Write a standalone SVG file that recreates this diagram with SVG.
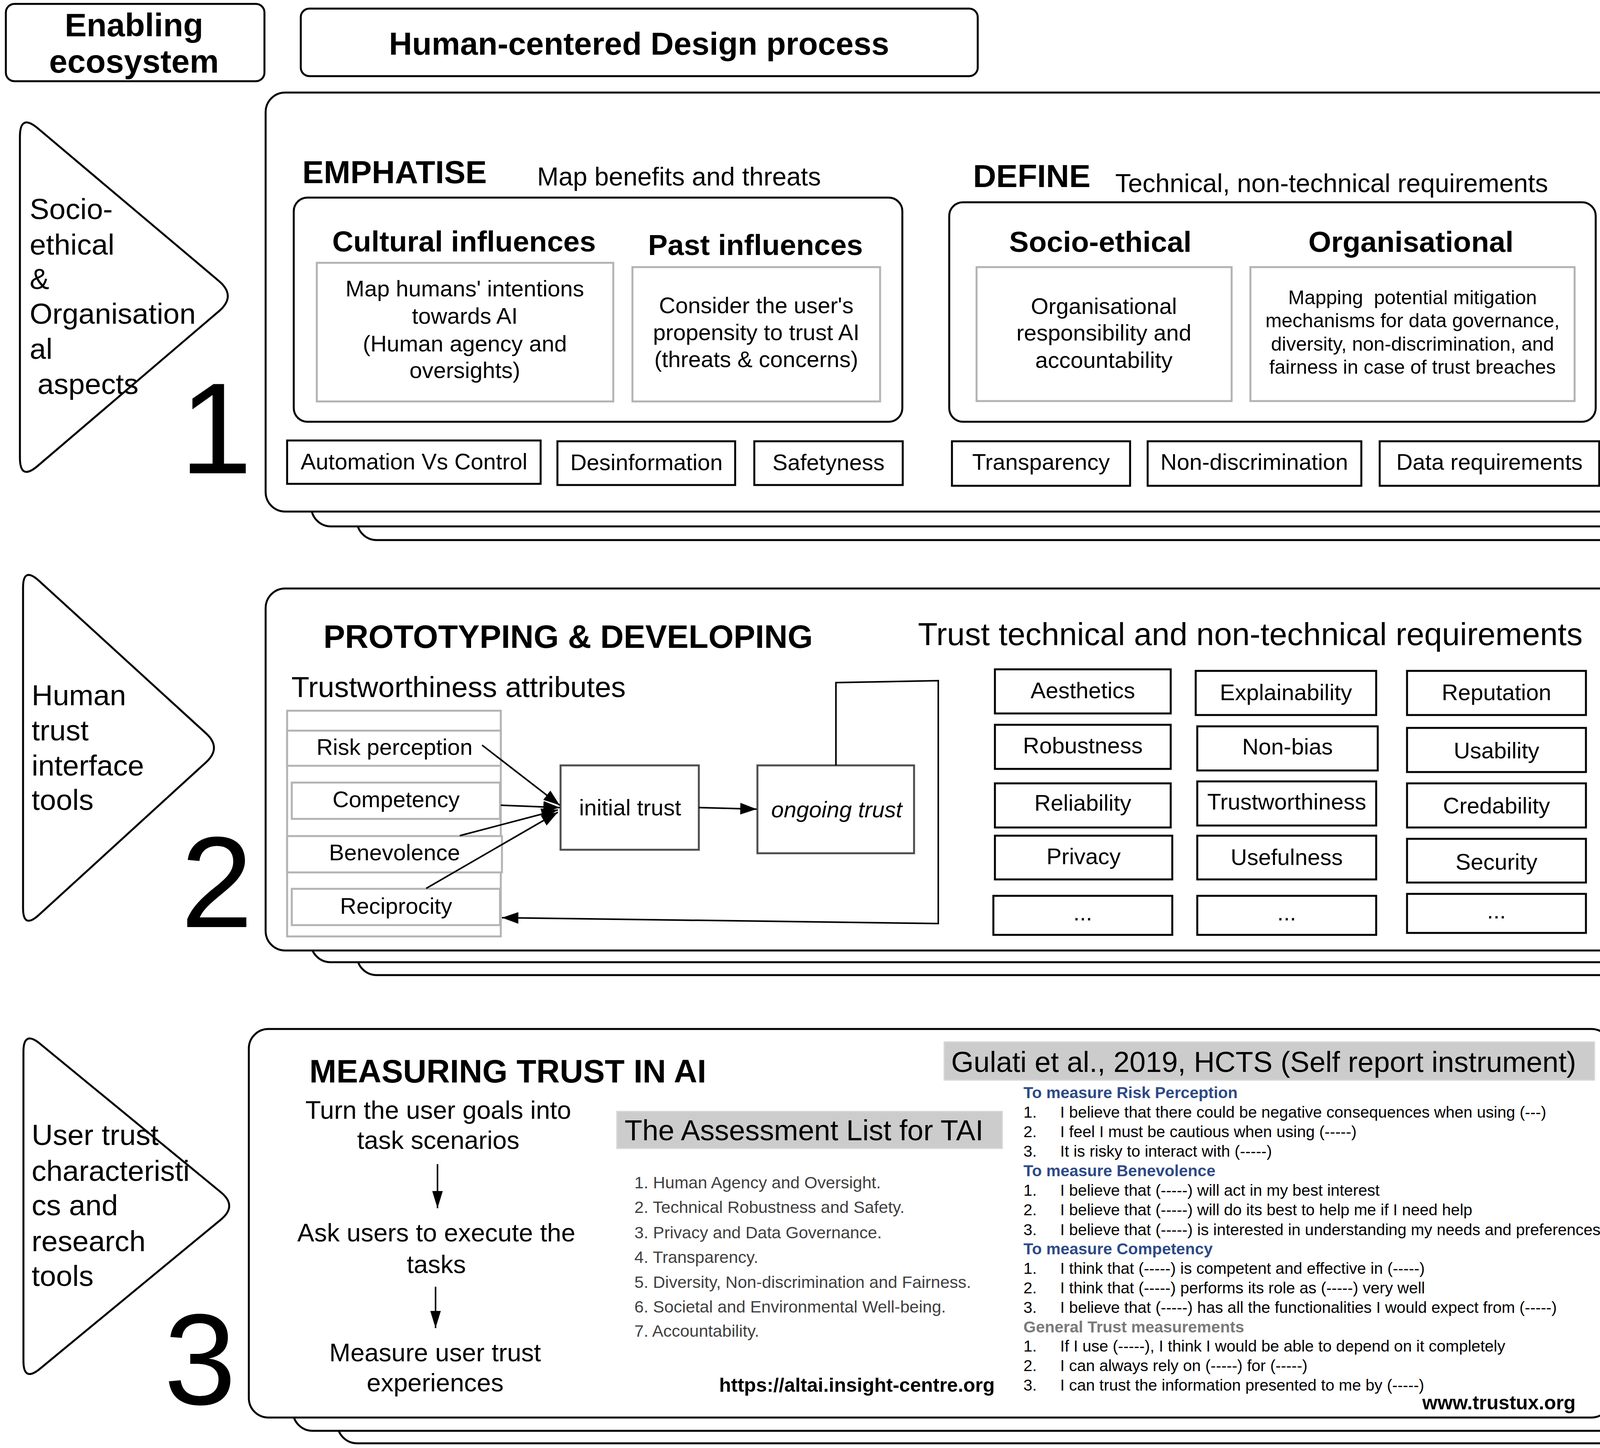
<svg xmlns="http://www.w3.org/2000/svg" width="4595" height="3708" viewBox="0 0 4595 3708">
<defs>
<style>
text{font-family:"Liberation Sans",Arial,Helvetica,sans-serif;fill:#000}
.b{font-weight:bold}
.c{text-anchor:middle}
.i{font-style:italic}
.f58{font-size:58px}
.f75{font-size:75px}
.f41{font-size:41px}
.box{fill:#fff;stroke:#000;stroke-width:5}
.rbox{fill:#fff;stroke:#000;stroke-width:5}
.gbox{fill:#fff;stroke:#b3b3b3;stroke-width:5}
.dbox{fill:#fff;stroke:#4d4d4d;stroke-width:5}
.ln{fill:none;stroke:#000;stroke-width:4}
.blue{fill:#2e4a87;font-weight:bold}
.grey{fill:#7a7a7a;font-weight:bold}
.alt{fill:#404040;font-size:43px}
</style>
<marker id="ah" viewBox="0 0 10 10" refX="10" refY="5" markerUnits="userSpaceOnUse" markerWidth="42" markerHeight="30" orient="auto" preserveAspectRatio="none"><path d="M0,0 L10,5 L0,10 z" fill="#000"/></marker>
<marker id="ahs" viewBox="0 0 10 10" refX="10" refY="5" markerUnits="userSpaceOnUse" markerWidth="44" markerHeight="27" orient="auto" preserveAspectRatio="none"><path d="M0,0 L10,5 L0,10 z" fill="#000"/></marker>
</defs>
<rect width="4595" height="3708" fill="#fff"/>

<g id="enabling-ecosystem">
<rect x="15" y="10" width="662" height="198" rx="22" class="box"/>
<text class="b c" x="343" y="93" font-size="84">Enabling</text>
<text class="b c" x="343" y="186" font-size="84">ecosystem</text>
</g>
<g id="hcd-process">
<rect x="770" y="22" width="1733" height="173" rx="22" class="box"/>
<text class="b c" x="1636" y="140" font-size="82">Human-centered Design process</text>
</g>

<!-- Section 1 -->
<g id="tri-1">
<path d="M51,350 Q51,290 96.9,328.7 L560.1,719.3 Q606,758 560.4,797 L96.6,1193 Q51,1232 51,1172 Z" class="box"/>
<text class="f75" x="76" y="561">Socio-</text>
<text class="f75" x="76" y="652">ethical</text>
<text class="f75" x="76" y="740">&amp;</text>
<text class="f75" x="76" y="829">Organisation</text>
<text class="f75" x="76" y="919">al</text>
<text class="f75" x="96" y="1009">aspects</text>
<text class="c" x="553" y="1212" font-size="332">1</text>
</g>
<g id="stage-1">
<rect x="914" y="308" width="3487" height="1075" rx="50" class="box"/>
<rect x="797" y="272" width="3487" height="1076" rx="50" class="box"/>
<rect x="680" y="237" width="3486" height="1073" rx="50" class="box"/>
</g>
<g id="emphatise">
<text class="b" x="774" y="469" font-size="82">EMPHATISE</text>
<text x="1375" y="475" font-size="66">Map benefits and threats</text>
<rect x="752" y="506" width="1558" height="574" rx="35" class="box"/>
<text class="b c f75" x="1188" y="644">Cultural influences</text>
<text class="b c f75" x="1934" y="653">Past influences</text>
</g>
<g id="cultural-box">
<rect x="811" y="673" width="759" height="355" class="gbox"/>
<text class="c f58" x="1190" y="759">Map humans' intentions</text>
<text class="c f58" x="1190" y="829">towards AI</text>
<text class="c f58" x="1190" y="900">(Human agency and</text>
<text class="c f58" x="1190" y="968">oversights)</text>
</g>
<g id="past-box">
<rect x="1619" y="684" width="634" height="344" class="gbox"/>
<text class="c f58" x="1936" y="802">Consider the user's</text>
<text class="c f58" x="1936" y="871">propensity to trust AI</text>
<text class="c f58" x="1936" y="940">(threats &amp; concerns)</text>
</g>
<g id="automation"><rect x="735" y="1128" width="649" height="111" class="box"/><text class="c f58" x="1060" y="1202">Automation Vs Control</text></g>
<g id="desinformation"><rect x="1427" y="1130" width="455" height="112" class="box"/><text class="c f58" x="1655" y="1204">Desinformation</text></g>
<g id="safetyness"><rect x="1931" y="1130" width="380" height="112" class="box"/><text class="c f58" x="2121" y="1204">Safetyness</text></g>

<g id="define">
<text class="b" x="2491" y="479" font-size="82">DEFINE</text>
<text x="2855" y="492" font-size="66">Technical, non-technical requirements</text>
<rect x="2430" y="518" width="1655" height="562" rx="35" class="box"/>
<text class="b c f75" x="2817" y="645">Socio-ethical</text>
<text class="b c f75" x="3612" y="645">Organisational</text>
</g>
<g id="socio-box">
<rect x="2500" y="684" width="653" height="343" class="gbox"/>
<text class="c f58" x="2826" y="804">Organisational</text>
<text class="c f58" x="2826" y="872">responsibility and</text>
<text class="c f58" x="2826" y="942">accountability</text>
</g>
<g id="org-box">
<rect x="3201" y="684" width="830" height="343" class="gbox"/>
<text class="c" font-size="50" x="3616" y="779" xml:space="preserve">Mapping  potential mitigation</text>
<text class="c" font-size="50" x="3616" y="838">mechanisms for data governance,</text>
<text class="c" font-size="50" x="3616" y="898">diversity, non-discrimination, and</text>
<text class="c" font-size="50" x="3616" y="957">fairness in case of trust breaches</text>
</g>
<g id="transparency"><rect x="2437" y="1130" width="456" height="114" class="box"/><text class="c f58" x="2665" y="1203">Transparency</text></g>
<g id="non-discrimination"><rect x="2938" y="1130" width="547" height="114" class="box"/><text class="c f58" x="3211" y="1203">Non-discrimination</text></g>
<g id="data-req"><rect x="3532" y="1130" width="562" height="114" class="box"/><text class="c f58" x="3813" y="1203">Data requirements</text></g>

<!-- Section 2 -->
<g id="tri-2">
<path d="M59,1505 Q59,1450 99.6,1487.1 L527.4,1877.9 Q568,1915 527.4,1952.1 L99.6,2342.9 Q59,2380 59,2325 Z" class="box"/>
<text class="f75" x="81" y="1806">Human</text>
<text class="f75" x="81" y="1896">trust</text>
<text class="f75" x="81" y="1986">interface</text>
<text class="f75" x="81" y="2074">tools</text>
<text class="c" x="555" y="2374" font-size="332">2</text>
</g>
<g id="stage-2">
<rect x="914" y="1567" width="3486" height="930" rx="50" class="box"/>
<rect x="796" y="1537" width="3487" height="927" rx="50" class="box"/>
<rect x="680" y="1507" width="3487" height="927" rx="50" class="box"/>
<text class="b" x="828" y="1659" font-size="83">PROTOTYPING &amp; DEVELOPING</text>
<text x="2350" y="1652" font-size="82">Trust technical and non-technical requirements</text>
<text class="f75" x="746" y="1785">Trustworthiness attributes</text>
</g>
<g id="attributes">
<rect x="735" y="1820" width="547" height="578" class="gbox"/>
</g>
<g id="risk-perception"><rect x="735" y="1871" width="547" height="90" class="gbox"/><text class="c f58" x="1010" y="1933">Risk perception</text></g>
<g id="competency"><rect x="747" y="2004" width="533" height="93" class="gbox"/><text class="c f58" x="1014" y="2067">Competency</text></g>
<g id="benevolence"><rect x="735" y="2141" width="550" height="93" class="gbox"/><text class="c f58" x="1010" y="2203">Benevolence</text></g>
<g id="reciprocity"><rect x="747" y="2276" width="533" height="93" class="gbox"/><text class="c f58" x="1014" y="2340">Reciprocity</text></g>
<g id="initial-trust"><rect x="1435" y="1960" width="354" height="216" class="dbox"/><text class="c f58" x="1613" y="2088">initial trust</text></g>
<g id="ongoing-trust"><rect x="1939" y="1960" width="401" height="225" class="dbox"/><text class="c f58 i" x="2142" y="2093">ongoing trust</text></g>

<g id="aesthetics"><rect x="2547" y="1714" width="450" height="113" class="box"/><text class="c f58" x="2772" y="1788">Aesthetics</text></g>
<g id="explainability"><rect x="3061" y="1718" width="462" height="113" class="box"/><text class="c f58" x="3292" y="1793">Explainability</text></g>
<g id="reputation"><rect x="3602" y="1718" width="458" height="113" class="box"/><text class="c f58" x="3831" y="1793">Reputation</text></g>
<g id="robustness"><rect x="2547" y="1856" width="450" height="113" class="box"/><text class="c f58" x="2772" y="1929">Robustness</text></g>
<g id="non-bias"><rect x="3065" y="1860" width="462" height="113" class="box"/><text class="c f58" x="3296" y="1932">Non-bias</text></g>
<g id="usability"><rect x="3602" y="1864" width="458" height="113" class="box"/><text class="c f58" x="3831" y="1942">Usability</text></g>
<g id="reliability"><rect x="2547" y="2006" width="450" height="113" class="box"/><text class="c f58" x="2772" y="2076">Reliability</text></g>
<g id="trustworthiness"><rect x="3065" y="2001" width="458" height="113" class="box"/><text class="c f58" x="3294" y="2073">Trustworthiness</text></g>
<g id="credability"><rect x="3602" y="2006" width="458" height="113" class="box"/><text class="c f58" x="3831" y="2083">Credability</text></g>
<g id="privacy"><rect x="2547" y="2140" width="454" height="112" class="box"/><text class="c f58" x="2774" y="2213">Privacy</text></g>
<g id="usefulness"><rect x="3065" y="2140" width="458" height="112" class="box"/><text class="c f58" x="3294" y="2215">Usefulness</text></g>
<g id="security"><rect x="3602" y="2148" width="458" height="112" class="box"/><text class="c f58" x="3831" y="2227">Security</text></g>
<g id="etc-1"><rect x="2543" y="2294" width="458" height="100" class="box"/><text class="c f58" x="2772" y="2357">...</text></g>
<g id="etc-2"><rect x="3065" y="2294" width="458" height="100" class="box"/><text class="c f58" x="3294" y="2357">...</text></g>
<g id="etc-3"><rect x="3602" y="2289" width="458" height="100" class="box"/><text class="c f58" x="3831" y="2352">...</text></g>

<!-- Section 3 -->
<g id="tri-3">
<path d="M60,2693 Q60,2638 102.5,2672.9 L565.5,3053.1 Q608,3088 565.6,3123 L102.4,3505 Q60,3540 60,3485 Z" class="box"/>
<text class="f75" x="81" y="2932">User trust</text>
<text class="f75" x="81" y="3024">characteristi</text>
<text class="f75" x="81" y="3112">cs and</text>
<text class="f75" x="81" y="3204">research</text>
<text class="f75" x="81" y="3293">tools</text>
<text class="c" x="512" y="3596" font-size="332">3</text>
</g>
<g id="stage-3">
<rect x="864" y="2703" width="3481" height="993" rx="50" class="box"/>
<rect x="750" y="2669" width="3490" height="995" rx="50" class="box"/>
<rect x="637" y="2635" width="3487" height="995" rx="50" class="box"/>
<text class="b" x="792" y="2772" font-size="83">MEASURING TRUST IN AI</text>
</g>
<g id="step-goals"><text class="c" font-size="65" x="1122" y="2865">Turn the user goals into</text><text class="c" font-size="65" x="1122" y="2942">task scenarios</text></g>
<g id="step-execute"><text class="c" font-size="65" x="1117" y="3179">Ask users to execute the</text><text class="c" font-size="65" x="1117" y="3260">tasks</text></g>
<g id="step-measure"><text class="c" font-size="65" x="1114" y="3486">Measure user trust</text><text class="c" font-size="65" x="1114" y="3563">experiences</text></g>

<g id="altai">
<rect x="1579" y="2846" width="987" height="95" fill="#cccccc" stroke="#d9d9d9" stroke-width="3"/>
<text x="1599" y="2920" font-size="74">The Assessment List for TAI</text>
<text class="alt" x="1624" y="3043">1. Human Agency and Oversight.</text>
<text class="alt" x="1624" y="3106">2. Technical Robustness and Safety.</text>
<text class="alt" x="1624" y="3171">3. Privacy and Data Governance.</text>
<text class="alt" x="1624" y="3234">4. Transparency.</text>
<text class="alt" x="1624" y="3298">5. Diversity, Non-discrimination and Fairness.</text>
<text class="alt" x="1624" y="3361">6. Societal and Environmental Well-being.</text>
<text class="alt" x="1624" y="3423">7. Accountability.</text>
<text class="b" x="1841" y="3564" font-size="50">https://altai.insight-centre.org</text>
</g>

<g id="hcts">
<rect x="2417" y="2668" width="1665" height="98" fill="#cccccc" stroke="#d9d9d9" stroke-width="3"/>
<text x="2435" y="2745" font-size="74">Gulati et al., 2019, HCTS (Self report instrument)</text>
<text class="blue f41" x="2620" y="2812">To measure Risk Perception</text>
<text class="f41" x="2620" y="2862">1.</text><text class="f41" x="2714" y="2862">I believe that there could be negative consequences when using (---)</text>
<text class="f41" x="2620" y="2912">2.</text><text class="f41" x="2714" y="2912">I feel I must be cautious when using (-----)</text>
<text class="f41" x="2620" y="2962">3.</text><text class="f41" x="2714" y="2962">It is risky to interact with (-----)</text>
<text class="blue f41" x="2620" y="3012">To measure Benevolence</text>
<text class="f41" x="2620" y="3062">1.</text><text class="f41" x="2714" y="3062">I believe that (-----) will act in my best interest</text>
<text class="f41" x="2620" y="3112">2.</text><text class="f41" x="2714" y="3112">I believe that (-----) will do its best to help me if I need help</text>
<text class="f41" x="2620" y="3163">3.</text><text class="f41" x="2714" y="3163">I believe that (-----) is interested in understanding my needs and preferences</text>
<text class="blue f41" x="2620" y="3212">To measure Competency</text>
<text class="f41" x="2620" y="3262">1.</text><text class="f41" x="2714" y="3262">I think that (-----) is competent and effective in (-----)</text>
<text class="f41" x="2620" y="3312">2.</text><text class="f41" x="2714" y="3312">I think that (-----) performs its role as (-----) very well</text>
<text class="f41" x="2620" y="3362">3.</text><text class="f41" x="2714" y="3362">I believe that (-----) has all the functionalities I would expect from (-----)</text>
<text class="grey f41" x="2620" y="3412">General Trust measurements</text>
<text class="f41" x="2620" y="3461">1.</text><text class="f41" x="2714" y="3461">If I use (-----), I think I would be able to depend on it completely</text>
<text class="f41" x="2620" y="3511">2.</text><text class="f41" x="2714" y="3511">I can always rely on (-----) for (-----)</text>
<text class="f41" x="2620" y="3561">3.</text><text class="f41" x="2714" y="3561">I can trust the information presented to me by (-----)</text>
<text class="b" x="3641" y="3609" font-size="50">www.trustux.org</text>
</g>

<g id="connectors">
<line x1="1234" y1="1908" x2="1433" y2="2062" class="ln" marker-end="url(#ah)"/>
<line x1="1282" y1="2062" x2="1433" y2="2068" class="ln" marker-end="url(#ah)"/>
<line x1="1177" y1="2140" x2="1428" y2="2074" class="ln" marker-end="url(#ah)"/>
<line x1="1091" y1="2275" x2="1428" y2="2080" class="ln" marker-end="url(#ah)"/>
<line x1="1789" y1="2068" x2="1937" y2="2072" class="ln" marker-end="url(#ah)"/>
<polyline points="2140,1960 2140,1748 2402,1743 2402,2365 1285,2350" class="ln" marker-end="url(#ah)"/>
<line x1="1120" y1="2981" x2="1120" y2="3094" class="ln" marker-end="url(#ahs)"/>
<line x1="1115" y1="3295" x2="1115" y2="3401" class="ln" marker-end="url(#ahs)"/>
</g>
</svg>
